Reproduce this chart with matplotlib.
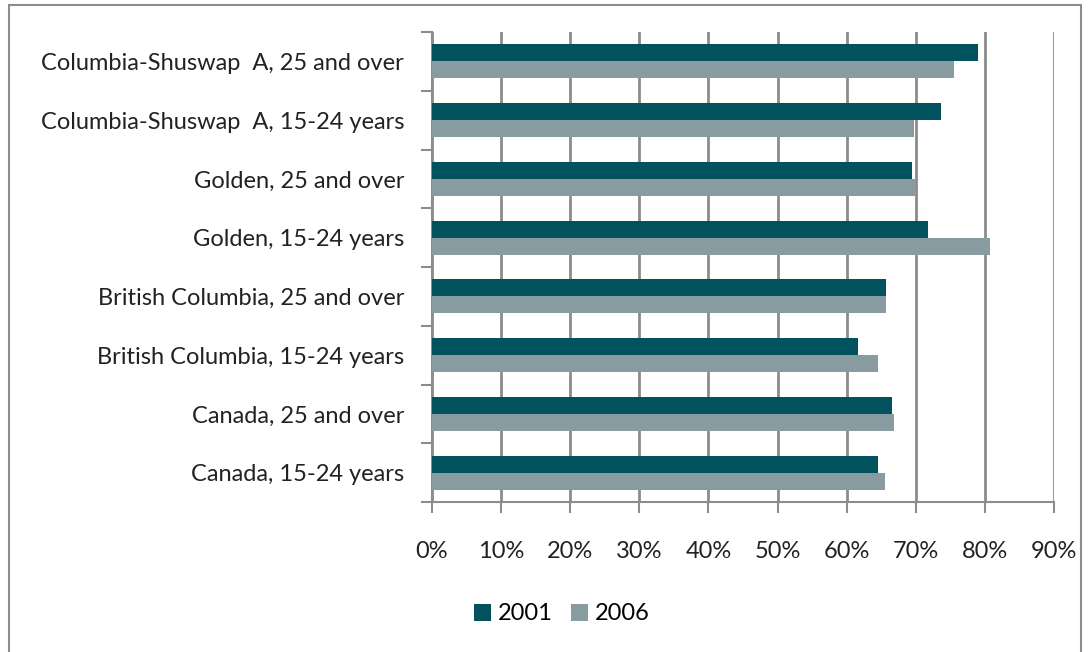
import numpy as np
import matplotlib.pyplot as plt
from matplotlib.patches import Rectangle

plt.rcParams['font.family'] = ['Lato', 'DejaVu Sans']

# categories listed bottom to top
categories = [
    "Canada, 15-24 years",
    "Canada, 25 and over",
    "British Columbia, 15-24 years",
    "British Columbia, 25 and over",
    "Golden, 15-24 years",
    "Golden, 25 and over",
    "Columbia-Shuswap  A, 15-24 years",
    "Columbia-Shuswap  A, 25 and over",
]
rate_2001 = [64.6, 66.6, 61.7, 65.7, 71.8, 69.5, 73.6, 79.0]
rate_2006 = [65.5, 66.9, 64.6, 65.7, 80.8, 70.1, 69.8, 75.6]
x_ticks = [0, 10, 20, 30, 40, 50, 60, 70, 80, 90]

c2001 = '#02525E'
c2006 = '#879BA0'
grid_c = '#8C8C8C'
txt_c = '#222222'

fig = plt.figure(figsize=(10.89, 6.52), dpi=100)
ax = fig.add_axes([432 / 1089, 1 - 502 / 652, (1054 - 432) / 1089, (502 - 32) / 652])

y = np.arange(len(categories))
h = 0.29
ax.barh(y + h / 2, rate_2001, height=h, color=c2001, label='2001', zorder=3)
ax.barh(y - h / 2, rate_2006, height=h, color=c2006, label='2006', zorder=3)

ax.set_xlim(0, 90)
ax.set_ylim(-0.5, len(categories) - 0.5)
ax.set_xticks(x_ticks)
ax.set_xticklabels([f'{v}%' for v in x_ticks], fontsize=17, color=txt_c)
ax.set_yticks(y)
ax.set_yticklabels(categories, fontsize=17, color=txt_c)
ax.set_yticks(np.arange(len(categories) + 1) - 0.5, minor=True)

ax.xaxis.grid(True, color=grid_c, linewidth=2, zorder=0)
ax.tick_params(axis='x', length=8, width=1.5, color=grid_c, pad=20)
ax.tick_params(axis='y', which='major', length=0, pad=20)
ax.tick_params(axis='y', which='minor', length=8, width=1.5, color=grid_c)

for s in ['top', 'right']:
    ax.spines[s].set_visible(False)
for s in ['left', 'bottom']:
    ax.spines[s].set_color(grid_c)
    ax.spines[s].set_linewidth(1.5)

handles, labels = ax.get_legend_handles_labels()
fig.legend(handles, labels, loc='center', bbox_to_anchor=(562 / 1089, 1 - 614 / 652),
           ncol=2, frameon=False, fontsize=17, handlelength=0.7, handleheight=0.7,
           handletextpad=0.3, columnspacing=0.8)

# outer chart frame
fig.patches.append(Rectangle((9 / 1089, -0.01), (1081 - 9) / 1089, 1 - 5 / 652 + 0.01,
                             transform=fig.transFigure, fill=False,
                             edgecolor='#8C8C8C', linewidth=1.5))

fig.savefig('out.png', dpi=100)
